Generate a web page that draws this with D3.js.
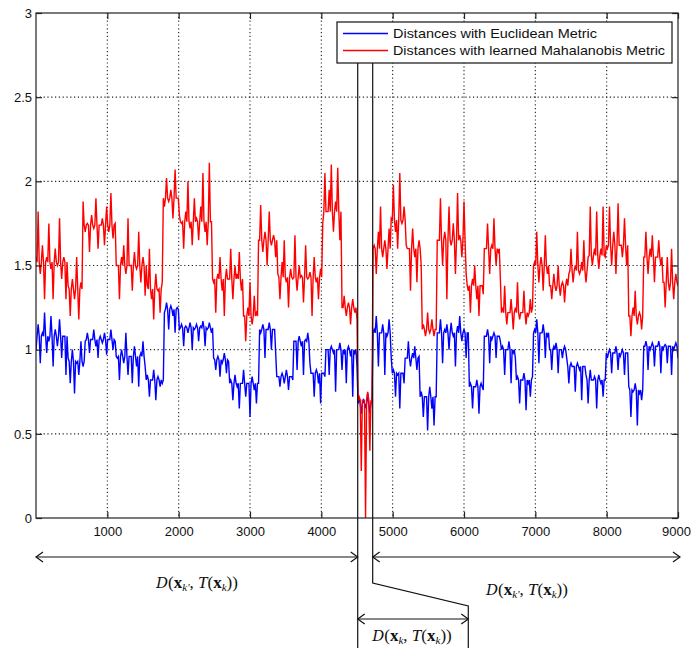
<!DOCTYPE html>
<html>
<head>
<meta charset="utf-8">
<script src="https://cdnjs.cloudflare.com/ajax/libs/d3/7.8.5/d3.min.js"></script>
<style>
  html, body { margin: 0; padding: 0; background: #fff; }
  svg { display: block; }
</style>
</head>
<body>
<svg id="chart" width="691" height="648"></svg>
<script>
// ---------------- data ----------------
const xTicks = [1000, 2000, 3000, 4000, 5000, 6000, 7000, 8000, 9000];
const yTicks = [0, 0.5, 1, 1.5, 2, 2.5, 3];
const yTickLabels = ["0", "0.5", "1", "1.5", "2", "2.5", "3"];
const seriesNames = ["Distances with Euclidean Metric", "Distances with learned Mahalanobis Metric"];
const xMax = 9000;
const sampleStep = 30;

// Euclidean distances (blue): spike samples every 30 frames from 0 to 9000
const blueValues = [
  1.0,1.15,0.92,1.1,1.22,0.98,1.05,1.2,0.9,1.12,1.02,1.18,0.95,1.08,0.85,
  0.95,0.8,1.0,0.74,0.92,0.85,1.05,0.9,
  1.05,1.1,0.98,1.06,1.12,1.02,0.95,1.08,1.04,1.1,0.97,1.06,1.12,1.0,1.05,
  0.95,0.82,1.0,0.92,1.1,0.85,0.96,0.8,1.02,0.9,0.78,0.98,1.05,0.9,
  0.85,0.72,0.82,0.88,0.7,0.84,0.78,0.8,
  1.22,1.28,1.12,1.26,1.2,1.1,1.25,
  1.12,1.15,1.02,1.14,1.1,1.16,1.0,1.12,1.15,1.05,1.14,1.17,1.02,1.12,1.16,1.1,
  0.95,0.88,0.96,0.84,0.92,0.98,0.86,0.93,
  0.82,0.7,0.85,0.78,0.65,0.8,0.88,0.72,0.8,0.6,0.84,0.76,0.68,0.8,
  1.1,1.15,0.95,1.12,1.16,1.0,1.12,0.98,
  0.84,0.78,0.86,0.8,0.88,0.76,0.84,0.82,
  1.05,0.88,1.08,1.02,0.85,1.06,1.1,0.92,
  0.86,0.72,0.88,0.8,0.68,0.86,0.84,
  1.0,0.85,1.02,0.98,0.75,1.0,1.04,0.88,0.98,0.8,1.02,0.96,0.72,0.98,0.9,
  0.72,0.62,0.7,0.66,0.74,0.62,0.7,
  1.12,1.2,0.9,1.1,1.15,0.85,1.08,1.18,0.95,
  0.88,0.72,0.85,0.65,0.86,0.8,
  0.95,1.05,0.9,0.98,1.02,0.88,0.96,
  0.75,0.6,0.72,0.52,0.78,0.65,0.55,0.72,
  1.1,1.18,0.92,1.12,1.15,1.0,1.16,1.08,0.9,1.14,1.2,1.05,1.12,0.95,1.1,
  0.8,0.65,0.78,0.82,0.62,0.8,0.76,
  1.08,1.12,0.92,1.06,1.1,0.95,1.08,1.05,
  1.02,0.85,1.0,1.05,0.8,0.98,0.95,
  0.84,0.68,0.82,0.86,0.64,0.8,0.72,0.84,
  1.12,1.18,0.92,1.1,1.15,0.95,1.08,
  1.0,0.88,1.02,1.04,0.86,1.0,0.95,1.02,
  0.95,0.8,0.92,0.9,0.75,0.92,0.88,0.7,0.9,0.85,0.68,0.88,0.82,0.84,0.65,0.85,0.8,0.72,0.82,
  0.95,1.0,0.86,0.98,1.02,0.88,0.96,1.0,0.85,0.98,
  0.78,0.6,0.75,0.8,0.55,0.74,0.7,
  1.02,1.05,0.88,1.0,1.04,0.9,1.02,1.05,0.86,1.0,1.03,0.92,1.02,0.85,1.0,1.04,0.95
];
// blue band level: [segment start frame, level]
const blueLevels = [
  [0,1.08],[450,0.93],[680,1.06],[1120,0.96],[1540,0.82],[1790,1.24],[2000,1.13],
  [2480,0.94],[2710,0.8],[3130,1.12],[3360,0.84],[3600,1.05],[3830,0.86],[4040,1.0],
  [4510,0.68],[4720,1.1],[4970,0.86],[5150,0.95],[5370,0.72],[5610,1.1],[6060,0.78],
  [6280,1.08],[6520,1.0],[6730,0.82],[6970,1.1],[7190,1.0],[7430,0.9],[7710,0.82],
  [7990,0.98],[8310,0.76],[8520,1.02]
];

// learned Mahalanobis distances (red): spike samples every 30 frames from 0 to 9000
const redValues = [
  1.55,1.82,1.45,1.62,1.3,1.55,1.75,1.48,1.3,1.6,1.5,1.78,1.42,1.55,1.3,
  1.38,1.2,1.42,1.3,1.55,1.18,1.4,
  1.88,1.7,1.75,1.58,1.8,1.72,1.9,1.6,1.74,1.78,1.62,1.85,1.7,1.93,1.66,1.75,
  1.5,1.3,1.55,1.62,1.45,1.78,1.5,1.35,1.58,1.48,1.7,1.4,1.55,1.32,
  1.38,1.6,1.3,1.18,1.45,1.35,1.22,1.4,
  1.85,2.02,1.88,1.95,1.78,2.07,1.9,1.8,
  1.75,1.6,1.82,2.0,1.72,1.62,1.9,1.78,1.65,1.85,2.05,1.7,1.62,2.11,1.76,
  1.4,1.22,1.45,1.55,1.35,1.2,1.48,1.42,1.6,1.3,1.5,1.45,1.58,1.35,
  1.2,1.05,1.25,1.4,1.15,1.32,1.22,
  1.65,1.86,1.58,1.7,1.5,1.82,1.62,1.68,1.55,
  1.45,1.3,1.52,1.65,1.4,1.25,1.48,1.42,1.68,1.35,1.5,1.44,1.28,1.62,1.42,1.46,1.2,1.55,1.4,1.3,1.48,
  1.75,2.05,1.82,1.95,2.1,1.7,1.88,2.08,1.65,
  1.25,1.32,1.2,1.28,1.15,1.3,1.22,1.18,
  0.72,0.28,0.7,0.0,0.75,0.4,0.68,
  1.62,1.45,1.7,1.85,1.55,1.65,1.48,1.72,
  1.78,1.98,1.7,1.6,2.05,1.75,1.85,1.62,
  1.6,1.35,1.72,1.55,1.4,1.65,1.5,
  1.15,1.08,1.22,1.1,1.18,1.08,1.12,
  1.65,1.9,1.5,1.7,1.3,1.85,1.62,1.75,1.45,1.93,1.68,1.55,1.88,
  1.45,1.35,1.22,1.42,1.5,1.3,1.2,1.38,1.33,
  1.6,1.75,1.45,1.62,1.78,1.5,1.58,1.42,
  1.25,1.38,1.15,1.22,1.3,1.12,1.25,1.4,1.18,1.22,1.35,1.15,1.2,1.3,1.25,
  1.52,1.7,1.4,1.55,1.35,1.68,1.45,
  1.38,1.3,1.45,1.35,1.5,1.32,1.4,1.28,1.42,
  1.45,1.6,1.4,1.5,1.7,1.45,1.52,1.65,1.4,1.55,1.85,1.5,1.6,1.82,1.48,1.6,1.85,1.55,
  1.6,1.85,1.5,1.7,1.45,1.87,1.62,1.55,1.78,1.5,
  1.2,1.08,1.25,1.35,1.15,1.22,1.12,
  1.55,1.7,1.45,1.6,1.68,1.4,1.55,1.65,1.5,
  1.4,1.25,1.55,1.35,1.6,1.3,1.45,1.38
];
// red band level: [segment start frame, level]
const redLevels = [
  [0,1.52],[450,1.36],[660,1.74],[1120,1.5],[1550,1.36],[1780,1.9],[2020,1.76],
  [2470,1.42],[2900,1.2],[3110,1.65],[3380,1.43],[4020,1.82],[4280,1.25],[4510,0.7],
  [4720,1.6],[4970,1.77],[5190,1.6],[5400,1.12],[5610,1.65],[6030,1.38],[6280,1.6],
  [6520,1.22],[6970,1.5],[7190,1.38],[7470,1.47],[7730,1.56],[7990,1.62],[8310,1.2],
  [8520,1.55],[8790,1.4]
];

// annotation boundaries (frames)
const queryStart = 4510;
const queryEnd = 4720;
const queryBracketEnd = 6060;

// ---------------- drawing ----------------
const svg = d3.select("#chart");
const pLeft = 36, pRight = 678, pTop = 13, pBottom = 518;

const x = d3.scaleLinear().domain([0, xMax]).range([pLeft, pRight]);
const y = d3.scaleLinear().domain([0, 3]).range([pBottom, pTop]);

const sansFont = "'Liberation Sans', Arial, Helvetica, sans-serif";

// grid
const grid = svg.append("g").attr("stroke", "#222").attr("stroke-width", 1.1)
  .attr("stroke-dasharray", "1.2,2.6");
xTicks.filter(t => t < xMax).forEach(t => {
  grid.append("line").attr("x1", x(t)).attr("x2", x(t)).attr("y1", pTop).attr("y2", pBottom);
});
yTicks.filter(t => t > 0 && t < 3).forEach(t => {
  grid.append("line").attr("x1", pLeft).attr("x2", pRight).attr("y1", y(t)).attr("y2", y(t));
});

// series: spike samples interleaved with the band level of their segment
svg.append("clipPath").attr("id", "clip").append("rect")
  .attr("x", pLeft).attr("y", pTop - 1).attr("width", pRight - pLeft).attr("height", pBottom - pTop + 2);

const segBisect = d3.bisector(d => d[0]).right;
function toPoints(vals, levels) {
  const pts = [];
  vals.forEach((v, i) => {
    const f = i * sampleStep;
    pts.push([f, v]);
    if (i < vals.length - 1) {
      const fm = f + sampleStep / 2;
      pts.push([fm, levels[segBisect(levels, fm) - 1][1]]);
    }
  });
  return pts;
}
const line = d3.line().x(d => x(d[0])).y(d => y(d[1]));
const plot = svg.append("g").attr("clip-path", "url(#clip)");
plot.append("path").datum(toPoints(blueValues, blueLevels)).attr("d", line)
  .attr("fill", "none").attr("stroke", "#0000ff").attr("stroke-width", 1.4);
plot.append("path").datum(toPoints(redValues, redLevels)).attr("d", line)
  .attr("fill", "none").attr("stroke", "#ff0000").attr("stroke-width", 1.4);

// axes box with inward ticks
const axBottom = d3.axisBottom(x).tickValues(xTicks).tickSize(-6).tickPadding(9).tickFormat(d3.format("d"));
const axLeft = d3.axisLeft(y).tickValues(yTicks).tickSize(-6).tickPadding(4).tickFormat((d, i) => yTickLabels[i]);
const axTop = d3.axisTop(x).tickValues(xTicks).tickSize(-6).tickFormat("");
const axRight = d3.axisRight(y).tickValues(yTicks).tickSize(-6).tickFormat("");

function styleAxis(g) {
  g.select(".domain").remove();
  g.selectAll(".tick line").attr("stroke", "#222").attr("stroke-width", 1.2);
  g.selectAll("text").attr("font-family", sansFont).attr("font-size", 13).attr("fill", "#111");
}
const gBottom = svg.append("g").attr("transform", `translate(0,${pBottom})`).call(axBottom).call(styleAxis);
// keep the last label inside the picture
gBottom.selectAll(".tick text").filter(d => d === xMax).attr("dx", -2);
svg.append("g").attr("transform", `translate(${pLeft},0)`).call(axLeft).call(styleAxis);
svg.append("g").attr("transform", `translate(0,${pTop})`).call(axTop).call(styleAxis);
svg.append("g").attr("transform", `translate(${pRight},0)`).call(axRight).call(styleAxis);
svg.append("rect").attr("x", pLeft).attr("y", pTop).attr("width", pRight - pLeft).attr("height", pBottom - pTop)
  .attr("fill", "none").attr("stroke", "#222").attr("stroke-width", 1.2);

// legend
const lg = svg.append("g");
lg.append("rect").attr("x", 337).attr("y", 22).attr("width", 335).attr("height", 41)
  .attr("fill", "#fff").attr("stroke", "#111").attr("stroke-width", 1.2);
const legendColors = ["#0000ff", "#ff0000"];
const legendWidths = [204, 272];
seriesNames.forEach((name, i) => {
  const ly = 33.5 + i * 17;
  lg.append("line").attr("x1", 343).attr("x2", 388).attr("y1", ly).attr("y2", ly)
    .attr("stroke", legendColors[i]).attr("stroke-width", 1.3);
  lg.append("text").attr("x", 393).attr("y", ly + 4.5).text(name)
    .attr("font-family", sansFont).attr("font-size", 13).attr("fill", "#111")
    .attr("textLength", legendWidths[i]).attr("lengthAdjust", "spacingAndGlyphs");
});

// annotation
const ann = svg.append("g").attr("stroke", "#111").attr("stroke-width", 1.2).attr("fill", "none");
const xa = x(queryStart), xb = x(queryEnd), xc = x(queryBracketEnd);
ann.append("line").attr("x1", xa).attr("x2", xa).attr("y1", 63).attr("y2", 648);
ann.append("path").attr("d", `M${xb},63 L${xb},583 L${xc},606 L${xc},648`);

function arrow(x1, x2, yy) {
  ann.append("line").attr("x1", x1).attr("x2", x2).attr("y1", yy).attr("y2", yy);
  ann.append("path").attr("d", `M${x1 + 7},${yy - 5} L${x1},${yy} L${x1 + 7},${yy + 5}`);
  ann.append("path").attr("d", `M${x2 - 7},${yy - 5} L${x2},${yy} L${x2 - 7},${yy + 5}`);
}
arrow(x(0), xa, 557);
arrow(xb, x(xMax) + 2, 557);
arrow(xa, xc, 619);

const serifFont = "'Liberation Serif', 'DejaVu Serif', 'Times New Roman', serif";
function mathLabel(cx, cy, sub) {
  const t = svg.append("text").attr("x", cx).attr("y", cy).attr("text-anchor", "middle")
    .attr("font-family", serifFont).attr("font-size", 17).attr("fill", "#111");
  t.append("tspan").attr("font-style", "italic").attr("font-family", "'DejaVu Serif', serif").attr("font-size", 15).text("D");
  t.append("tspan").text("(");
  t.append("tspan").attr("font-weight", "bold").text("x");
  t.append("tspan").attr("font-style", "italic").attr("font-size", 11).attr("dy", 3).text(sub);
  t.append("tspan").attr("dy", -3).text(", ");
  t.append("tspan").attr("font-style", "italic").text("T");
  t.append("tspan").text("(");
  t.append("tspan").attr("font-weight", "bold").text("x");
  t.append("tspan").attr("font-style", "italic").attr("font-size", 11).attr("dy", 3).text("k");
  t.append("tspan").attr("dy", -3).text("))");
}
mathLabel(197, 588, "k\u2032");
mathLabel(527, 595, "k\u2032");
mathLabel(412, 641, "k");
</script>
</body>
</html>
